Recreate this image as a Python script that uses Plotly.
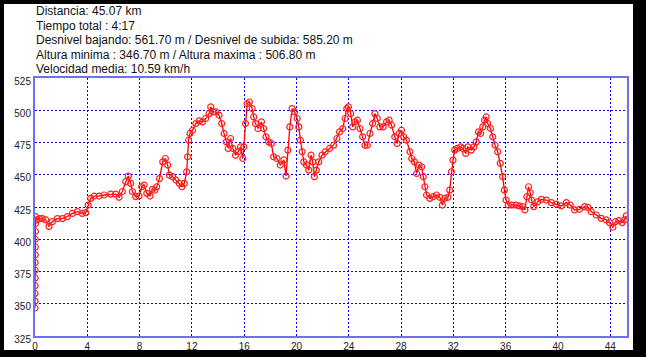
import plotly.graph_objects as go

# Distance (km) and elevation (m)
dist_km = [
    0.00, 0.00, 0.00, 0.01, 0.01, 0.01, 0.01, 0.02, 0.02, 0.02, 0.03, 0.03, 0.04,
    0.15, 0.35, 0.56, 0.82, 1.07, 1.33, 1.71, 2.09, 2.47, 2.86, 3.24, 3.62, 3.88,
    4.06, 4.26, 4.52, 4.90, 5.28, 5.79, 6.17, 6.43, 6.68, 6.94, 7.14, 7.32, 7.45,
    7.70, 7.96, 8.16, 8.34, 8.55, 8.80, 8.98, 9.16, 9.31, 9.52, 9.77, 9.97, 10.15,
    10.28, 10.53, 10.78, 11.04, 11.24, 11.42, 11.60, 11.67, 11.75, 11.85, 12.05,
    12.30, 12.56, 12.81, 13.06, 13.32, 13.44, 13.62, 13.82, 14.08, 14.28, 14.46,
    14.63, 14.78, 14.96, 15.14, 15.34, 15.54, 15.72, 15.90, 15.97, 16.10, 16.23,
    16.40, 16.61, 16.73, 16.86, 17.06, 17.32, 17.49, 17.67, 17.87, 18.08, 18.25,
    18.51, 18.76, 19.04, 19.20, 19.34, 19.49, 19.67, 19.85, 20.05, 20.18, 20.30,
    20.43, 20.56, 20.76, 20.94, 21.11, 21.24, 21.37, 21.52, 21.70, 21.95, 22.20,
    22.53, 22.84, 23.09, 23.29, 23.54, 23.72, 23.85, 23.97, 24.15, 24.30, 24.48,
    24.66, 24.86, 25.06, 25.24, 25.42, 25.62, 25.82, 26.00, 26.18, 26.38, 26.63,
    26.89, 27.09, 27.27, 27.52, 27.70, 27.85, 28.03, 28.20, 28.41, 28.68, 28.81,
    29.01, 29.19, 29.37, 29.57, 29.70, 29.82, 29.95, 30.20, 30.46, 30.71, 30.96,
    31.16, 31.34, 31.59, 31.72, 31.85, 31.97, 32.10, 32.30, 32.56, 32.73, 32.94,
    33.11, 33.37, 33.57, 33.75, 33.92, 34.08, 34.25, 34.38, 34.51, 34.63, 34.84,
    35.01, 35.19, 35.39, 35.59, 35.77, 35.90, 36.03, 36.20, 36.46, 36.78, 37.04,
    37.29, 37.47, 37.62, 37.75, 37.88, 37.98, 38.15, 38.47, 38.73, 39.11, 39.49,
    39.87, 40.25, 40.64, 40.94, 41.27, 41.65, 42.04, 42.29, 42.54, 42.93, 43.31,
    43.69, 43.94, 44.20, 44.40, 44.66, 44.91, 45.09, 45.22,
]
elev_m = [
    346.7, 352, 358, 364, 370, 376, 382, 388, 394, 400, 406, 412, 417.5,
    415, 416, 416, 415, 410, 413.7, 416, 416, 417.5, 420, 421.4, 420, 420.6,
    426.5, 431.7, 433.5, 433.5, 434.3, 435, 435, 432.5, 437, 444.6, 449, 443.3, 437,
    433, 433.5, 440.7, 442, 435.6, 433.5, 438.7, 438, 440.7, 447, 460, 462.6, 457.5,
    449.7, 448.5, 445.9, 443.3, 440.7, 443.3, 452.3, 463.9, 476.8, 482, 484.5,
    489.7, 491.8, 491, 493.6, 497.4, 502.6, 498.7, 498.7, 496.1, 489.7, 482,
    475.5, 470.4, 478.1, 470.4, 465.2, 467.8, 471.6, 462.6, 471.6, 489.7, 505.2,
    506.4, 501.3, 494.8, 489.7, 485.8, 491, 485.8, 479.4, 475.5, 474.2, 463.9,
    462.6, 457.5, 461.5, 449, 469.1, 487.1, 501.3, 498.7, 493.6, 487.1, 476.8,
    467.8, 460, 457.5, 453.6, 465.2, 460, 448.5, 453.6, 460, 465.2, 467.8,
    470.4, 472.9, 478.1, 483.2, 485.8, 493.6, 501.3, 502.6, 497.4, 487.1, 491,
    492.3, 485.8, 479.4, 472.9, 472.9, 482, 489.7, 497.4, 493.6, 487.1, 487.1,
    491, 492.3, 488.4, 479.4, 474.2, 482, 484.5, 479.4, 476.8, 467.8, 462.6,
    460, 451, 457.5, 456.2, 448.5, 440.7, 434.3, 431.7, 433, 434.3, 432.5,
    426.5, 431.7, 432.5, 438.1, 452.3, 461.3, 469.1, 470.4, 471.6, 470.4, 466.5,
    471.6, 469.1, 471.6, 475.5, 483.2, 482, 487.1, 492.3, 494.8, 489.7, 485.8,
    479.4, 472.9, 467.8, 458.8, 448.5, 438.1, 430.4, 426.5, 426.5, 426.5, 425.8,
    425.3, 422.7, 433, 440.7, 436, 430.4, 425.3, 429.1, 430.9, 430.4, 428.4,
    427.3, 425.8, 428.4, 426.5, 422.7, 423.2, 425.3, 424.7, 421.4, 418.8, 416.2,
    415, 412.9, 409.3, 413.7, 414.4, 412.9, 415, 418.1,
]

header_lines = [
    "Distancia: 45.07 km",
    "Tiempo total : 4:17",
    "Desnivel bajando: 561.70 m / Desnivel de subida: 585.20 m",
    "Altura minima : 346.70 m / Altura maxima : 506.80 m",
    "Velocidad media: 10.59 km/h",
]
x_ticks = list(range(0, 45, 4))
y_ticks = list(range(325, 526, 25))

W, H = 646, 357
ML, MR, MT, MB = 35, 19, 78, 21
PW, PH = W - ML - MR, H - MT - MB


def px_x(px):
    return (px - ML) / PW


def px_y(py):
    return (H - MB - py) / PH


fig = go.Figure()
fig.add_trace(go.Scatter(
    x=dist_km, y=elev_m, mode="lines+markers",
    line=dict(color="#ff0000", width=1.3),
    marker=dict(symbol="circle-open", size=6, color="#ff2020", line=dict(width=1.2)),
    showlegend=False, hoverinfo="skip", cliponaxis=True,
))

fig.add_shape(type="rect", xref="paper", yref="paper", layer="below",
              x0=px_x(4), x1=px_x(633), y0=px_y(350), y1=px_y(4),
              fillcolor="white", line=dict(width=0))

header_y = [11, 25.5, 40, 54.5, 69.5]
for txt, py in zip(header_lines, header_y):
    fig.add_annotation(text=txt, xref="paper", yref="paper", x=px_x(34), y=px_y(py),
                       xanchor="left", yanchor="middle", showarrow=False,
                       font=dict(family="Liberation Sans, Arial", size=12, color="#111"))

axis_common = dict(
    showline=True, mirror=True, linecolor="#6f6ff2", linewidth=2,
    showgrid=True, gridcolor="#0000ff", gridwidth=1, griddash="2px,2px",
    zeroline=False, ticks="", automargin=False,
    tickfont=dict(family="Liberation Sans, Arial", size=10, color="#222"),
)
fig.update_xaxes(range=[0, 45.28], tickvals=x_ticks, ticktext=[str(v) for v in x_ticks],
                 ticklabelstandoff=0, **axis_common)
fig.update_yaxes(range=[325, 525], tickvals=y_ticks, ticktext=[str(v) for v in y_ticks],
                 ticklabelstandoff=0, ticklabelshift=3, **axis_common)

fig.update_layout(
    width=W, height=H, margin=dict(l=ML, r=MR, t=MT, b=MB, autoexpand=False),
    paper_bgcolor="black", plot_bgcolor="rgba(0,0,0,0)",
    font=dict(family="Liberation Sans, Arial"),
)
fig.write_html(
    "out.html",
    config={"displayModeBar": False, "staticPlot": True},
    post_script="document.body.style.margin='0';document.body.style.overflow='hidden';",
)
